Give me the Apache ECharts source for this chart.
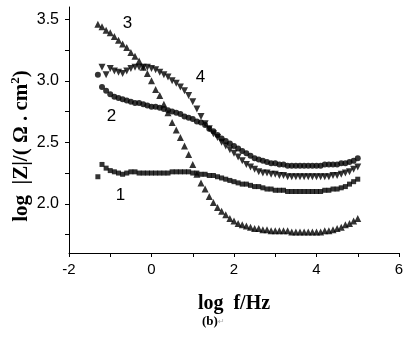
<!DOCTYPE html>
<html>
<head>
<meta charset="utf-8">
<script src="https://cdn.jsdelivr.net/npm/echarts@6/dist/echarts.min.js"></script>
<style>html,body{margin:0;padding:0;background:#fff}#c{width:410px;height:346px}</style>
</head>
<body>
<div id="c"></div>
<script>
// log f (Hz)
const logF = [-1.3,-1.2,-1.1,-1.0,-0.9,-0.8,-0.7,-0.6,-0.5,-0.4,
  -0.3,-0.2,-0.1,0.0,0.1,0.2,0.3,0.4,0.5,0.6,
  0.7,0.8,0.9,1.0,1.1,1.2,1.3,1.4,1.5,1.6,
  1.7,1.8,1.9,2.0,2.1,2.2,2.3,2.4,2.5,2.6,
  2.7,2.8,2.9,3.0,3.1,3.2,3.3,3.4,3.5,3.6,
  3.7,3.8,3.9,4.0,4.1,4.2,4.3,4.4,4.5,4.6,
  4.7,4.8,4.9,5.0];
// curve 1 (squares)
const curve1 = [2.22,2.32,2.29,2.27,2.26,2.25,2.24,2.25,2.26,2.26,
  2.25,2.25,2.25,2.25,2.25,2.25,2.25,2.25,2.26,2.26,
  2.26,2.26,2.26,2.25,2.25,2.24,2.24,2.23,2.23,2.22,
  2.21,2.20,2.19,2.18,2.17,2.16,2.16,2.15,2.14,2.14,
  2.13,2.12,2.12,2.11,2.11,2.11,2.10,2.10,2.10,2.10,
  2.10,2.10,2.10,2.10,2.10,2.11,2.11,2.12,2.12,2.13,
  2.14,2.16,2.18,2.20];
// curve 2 (circles)
const curve2 = [3.05,2.95,2.92,2.89,2.87,2.86,2.85,2.84,2.83,2.82,
  2.82,2.81,2.80,2.79,2.79,2.78,2.77,2.76,2.75,2.74,
  2.73,2.71,2.70,2.69,2.67,2.66,2.64,2.61,2.59,2.56,
  2.53,2.51,2.49,2.47,2.45,2.43,2.41,2.39,2.37,2.36,
  2.35,2.34,2.33,2.33,2.32,2.32,2.31,2.31,2.31,2.31,
  2.31,2.31,2.31,2.31,2.31,2.32,2.32,2.32,2.32,2.33,
  2.33,2.34,2.35,2.37];
// curve 3 (up triangles)
const curve3 = [3.46,3.44,3.41,3.39,3.36,3.33,3.30,3.27,3.23,3.20,
  3.16,3.11,3.06,3.00,2.93,2.88,2.81,2.74,2.66,2.60,
  2.54,2.47,2.40,2.32,2.24,2.17,2.12,2.06,2.01,1.97,
  1.94,1.91,1.88,1.86,1.84,1.83,1.82,1.81,1.80,1.80,
  1.79,1.79,1.78,1.78,1.78,1.78,1.78,1.77,1.77,1.77,
  1.77,1.77,1.77,1.77,1.77,1.78,1.78,1.79,1.80,1.81,
  1.83,1.84,1.86,1.88];
// curve 4 (down triangles)
const curve4 = [null,3.11,3.05,3.10,3.08,3.07,3.06,3.08,3.10,3.11,
  3.11,3.11,3.11,3.10,3.09,3.07,3.05,3.03,3.00,2.98,
  2.95,2.92,2.88,2.83,2.77,2.71,2.65,2.61,2.57,2.54,
  2.50,2.47,2.44,2.41,2.38,2.35,2.32,2.30,2.28,2.26,
  2.25,2.25,2.24,2.24,2.23,2.23,2.22,2.22,2.22,2.22,
  2.22,2.22,2.22,2.22,2.22,2.22,2.22,2.23,2.23,2.24,
  2.25,2.26,2.28,2.30];
const yTickValues = [1.75,2.0,2.25,2.5,2.75,3.0,3.25,3.5];
const yLabelValues = [2.0,2.5,3.0,3.5];
const curveLabels = [
  {name:'1', coord:[-0.75,2.07]},
  {name:'2', coord:[-0.97,2.71]},
  {name:'3', coord:[-0.58,3.47]},
  {name:'4', coord:[1.19,3.03]}
];

function pairs(ys){ return logF.map((x,i)=>[x,ys[i]]).filter(p=>p[1]!=null); }

const chart = echarts.init(document.getElementById('c'), null, {renderer:'canvas'});
const sansFont = 'Liberation Sans';
const nameFont = 'Liberation Serif';
const baseScatter = (data, symbol, size) => ({
  type:'scatter', data, symbol, symbolSize:size,
  itemStyle:{color:'#000'}, silent:true
});
chart.setOption({
  animation:false,
  backgroundColor:'#fff',
  grid:{left:69, right:11, top:7, bottom:93, containLabel:false, outerBoundsMode:'none'},
  xAxis:{
    type:'value', min:-2, max:6, interval:2,
    axisLine:{show:true, onZero:false, lineStyle:{color:'#000', width:1}},
    axisTick:{show:true, length:4, lineStyle:{color:'#000'}},
    minorTick:{show:true, splitNumber:2, length:4, lineStyle:{color:'#000'}},
    splitLine:{show:false},
    axisLabel:{color:'#000', fontFamily:sansFont, fontSize:15, margin:9},
    name:'log  f/Hz', nameLocation:'middle', nameGap:41,
    nameTextStyle:{color:'#000', fontFamily:nameFont, fontSize:20, fontWeight:'bold'}
  },
  yAxis:{
    type:'value', min:1.6, max:3.6,
    axisLine:{show:true, onZero:false, lineStyle:{color:'#000', width:1}},
    axisTick:{show:true, length:4, customValues:yTickValues, lineStyle:{color:'#000'}},
    splitLine:{show:false},
    axisLabel:{color:'#000', fontFamily:sansFont, fontSize:16, margin:10,
      customValues:yLabelValues, formatter:v=>Number(v).toFixed(1)}
  },
  series:[
    Object.assign(baseScatter(pairs(curve1),'rect',5), {
      markPoint:{
        symbol:'circle', symbolSize:1, itemStyle:{color:'rgba(0,0,0,0)'},
        label:{show:true, position:'inside', formatter:p=>p.name, color:'#000', fontFamily:sansFont, fontSize:17},
        data:curveLabels
      }
    }),
    baseScatter(pairs(curve2),'circle',6),
    baseScatter(pairs(curve3),'triangle',7),
    baseScatter(pairs(curve4),'path://M0,0 L10,0 L5,9 Z',7)
  ],
  graphic:[{
    type:'text', x:22, y:146, rotation:Math.PI/2,
    style:{text:'{t|log  |Z|/( Ω . cm}{sup|2}{t|)}', align:'center', verticalAlign:'middle', rich:{
      t:{fontFamily:nameFont, fontSize:21, fontWeight:'bold', fill:'#000'},
      sup:{fontFamily:nameFont, fontSize:13, fontWeight:'bold', fill:'#000', verticalAlign:'top', padding:[0,0,12,0]}
    }}
  },{
    type:'text', left:202, top:315,
    style:{text:'{b|(b)}{r|↵}', rich:{
      b:{fontFamily:'Liberation Serif', fontWeight:'bold', fontSize:13, fill:'#000'},
      r:{fontFamily:'DejaVu Sans', fontSize:8, fill:'#aaa'}
    }}
  }]
});
</script>
</body>
</html>
